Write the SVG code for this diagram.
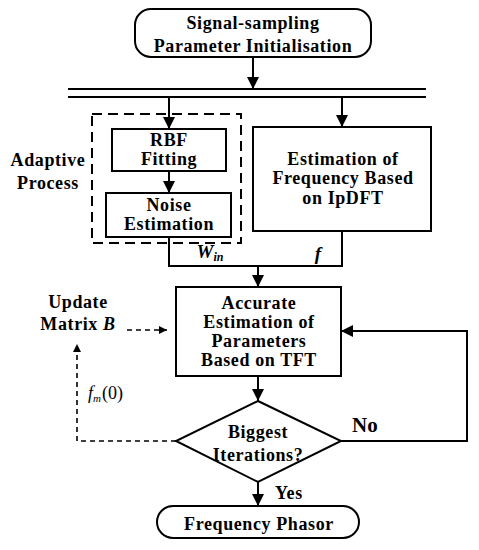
<svg xmlns="http://www.w3.org/2000/svg" width="479" height="550" viewBox="0 0 479 550">
<defs>
<marker id="ah" viewBox="0 0 10 10" refX="10" refY="5" markerWidth="12" markerHeight="12" markerUnits="userSpaceOnUse" orient="auto">
<path d="M0,0 L10,5 L0,10 z" fill="#000"/>
</marker>
<marker id="ahs" viewBox="0 0 10 10" refX="10" refY="5" markerWidth="8" markerHeight="8" markerUnits="userSpaceOnUse" orient="auto">
<path d="M0,0 L10,5 L0,10 z" fill="#000"/>
</marker>
</defs>
<style>
.box{fill:#fff;stroke:#000;stroke-width:2}
.t{font-family:"Liberation Serif","Times New Roman",serif;font-weight:bold;font-size:18px;letter-spacing:0.6px;text-anchor:middle;dominant-baseline:central;fill:#000}
.ln{fill:none;stroke:#000;stroke-width:2}
.dl{fill:none;stroke:#000;stroke-width:1.6;stroke-dasharray:5,4}
</style>
<rect width="479" height="550" fill="#fff"/>
<g id="start">
<rect class="box" x="135" y="9" width="236" height="48" rx="16"/>
<text class="t" x="253" y="23">Signal-sampling</text>
<text class="t" x="253" y="46">Parameter Initialisation</text>
</g>
<g id="adaptive">
<rect x="92" y="114" width="149" height="129" fill="none" stroke="#000" stroke-width="2" stroke-dasharray="10,6"/>
<text class="t" x="48" y="160">Adaptive</text>
<text class="t" x="48" y="183">Process</text>
</g>
<g id="rbf">
<rect class="box" x="112" y="129" width="114" height="42"/>
<text class="t" x="169" y="140">RBF</text>
<text class="t" x="169" y="159">Fitting</text>
</g>
<g id="noise">
<rect class="box" x="106" y="193" width="125" height="44"/>
<text class="t" x="169" y="205">Noise</text>
<text class="t" x="169" y="224">Estimation</text>
</g>
<g id="ipdft">
<rect class="box" x="253" y="127" width="178" height="104"/>
<text class="t" x="343" y="159">Estimation of</text>
<text class="t" x="343" y="178">Frequency Based</text>
<text class="t" x="343" y="198">on IpDFT</text>
</g>
<g id="tft">
<rect class="box" x="176" y="287" width="165" height="89"/>
<text class="t" x="259" y="303">Accurate</text>
<text class="t" x="259" y="322">Estimation of</text>
<text class="t" x="259" y="341">Parameters</text>
<text class="t" x="259" y="360">Based on TFT</text>
</g>
<g id="update">
<text class="t" x="78" y="302">Update</text>
<text class="t" x="78" y="324">Matrix <tspan font-style="italic">B</tspan></text>
</g>
<g id="decision">
<path class="box" d="M258,401 L341,441 L258,482 L176,441 z"/>
<text class="t" x="258" y="432">Biggest</text>
<text class="t" x="258" y="455">Iterations?</text>
</g>
<g id="end">
<rect class="box" x="157" y="506" width="202" height="32" rx="16"/>
<text class="t" x="259" y="524">Frequency Phasor</text>
</g>
<g id="connectors">
<line class="ln" x1="253" y1="57" x2="253" y2="89" marker-end="url(#ah)"/>
<line class="ln" x1="68" y1="89" x2="426" y2="89"/>
<line class="ln" x1="68" y1="97" x2="426" y2="97"/>
<line class="ln" x1="169" y1="97" x2="169" y2="129" marker-end="url(#ah)"/>
<line class="ln" x1="342" y1="97" x2="342" y2="127" marker-end="url(#ah)"/>
<line class="ln" x1="169" y1="171" x2="169" y2="193" marker-end="url(#ah)"/>
<polyline class="ln" points="169,237 169,266 342,266 342,231"/>
<line class="ln" x1="258" y1="266" x2="258" y2="287" marker-end="url(#ah)"/>
<line class="ln" x1="258" y1="376" x2="258" y2="401" marker-end="url(#ah)"/>
<polyline class="ln" points="341,441 467,441 467,331 341,331" marker-end="url(#ah)"/>
<line class="ln" x1="258" y1="482" x2="258" y2="506" marker-end="url(#ah)"/>
<line class="dl" x1="127" y1="330" x2="167" y2="330" marker-end="url(#ahs)"/>
<polyline class="dl" points="176,441 77,441 77,344" marker-end="url(#ahs)"/>
<text x="210" y="258" font-family="Liberation Serif, serif" font-weight="bold" font-style="italic" font-size="19" text-anchor="middle">W<tspan font-size="12" dy="3">in</tspan></text>
<text x="318" y="260" font-family="Liberation Serif, serif" font-weight="bold" font-style="italic" font-size="19" text-anchor="middle">f</text>
<text x="88" y="399" font-family="Liberation Serif, serif" font-size="18"><tspan font-style="italic">f</tspan><tspan font-style="italic" font-size="11" dy="3">m</tspan><tspan dy="-3" dx="1">(0)</tspan></text>
<text x="352" y="432" font-family="Liberation Serif, serif" font-weight="bold" font-size="21">No</text>
<text x="275" y="499" font-family="Liberation Serif, serif" font-weight="bold" font-size="18" letter-spacing="0.6">Yes</text>
</g>
</svg>
